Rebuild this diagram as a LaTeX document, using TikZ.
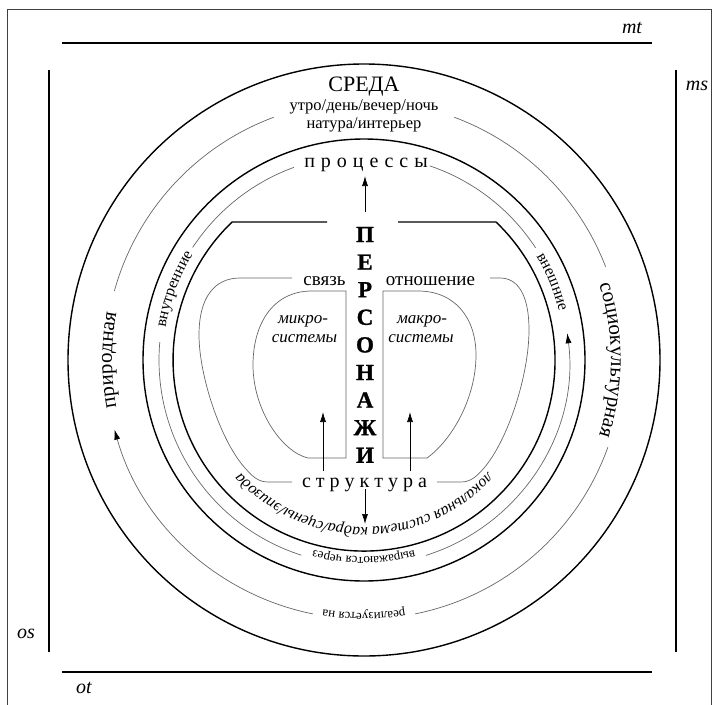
\documentclass[tikz,border=0pt]{standalone}
\usepackage{fontspec}
\setmainfont{Liberation Serif}[BoldFont={Liberation Serif Bold},ItalicFont={Liberation Serif Italic}]
\newfontfamily\persfont{Liberation Serif Bold}[FakeBold=1.2]
\usetikzlibrary{arrows.meta,decorations.text}
\begin{document}
\begin{tikzpicture}[x=1pt,y=-1pt,
  thickline/.style={line width=1.4pt, black},
  thinline/.style={line width=0.7pt, black!60},
  axisline/.style={line width=1.1pt, black},
  ar/.style={-{Latex[length=10pt,width=6pt,color=black]}},
  lbl/.style={inner sep=0pt, anchor=base},
  curvetext/.style={decorate, decoration={text along path, text align=center, text={#1}}},
]
\useasboundingbox (0,0) rectangle (714,704);
% frame
\draw[black!75, line width=1pt] (7.5,9.5) rectangle (711.5,720);
% axis lines
\coordinate (mtA) at (62,43);  \coordinate (mtB) at (652,43);
\coordinate (otA) at (62,672); \coordinate (otB) at (652,672);
\coordinate (osA) at (49,70);  \coordinate (osB) at (49,652);
\coordinate (msA) at (676,70); \coordinate (msB) at (676,652);
\draw[axisline] (mtA) -- (mtB);
\draw[axisline] (otA) -- (otB);
\draw[axisline] (osA) -- (osB);
\draw[axisline] (msA) -- (msB);
\node[lbl, font=\fontsize{20}{20}\selectfont\itshape] (mt) at (632,33) {mt};
\node[lbl, font=\fontsize{20}{20}\selectfont\itshape] (ms) at (697,90) {ms};
\node[lbl, font=\fontsize{20}{20}\selectfont\itshape] (os) at (26,638) {os};
\node[lbl, font=\fontsize{20}{20}\selectfont\itshape] (ot) at (84,693) {ot};

\coordinate (O) at (364,360);
% thick circles
\draw[thickline] (O) circle[radius=296];
\draw[thickline] (O) circle[radius=221];
% circle 2 (thin)
\draw[thinline] ([shift={(195.5:259)}]O) arc[start angle=195.5, end angle=249.6, radius=259];
\draw[thinline, ar] ([shift={(101.4:259)}]O) arc[start angle=101.4, end angle=164.4, radius=259];
\draw[thinline] ([shift={(19.7:259)}]O) arc[start angle=19.7, end angle=78.6, radius=259];
\draw[thinline] ([shift={(-69.6:259)}]O) arc[start angle=-69.6, end angle=-21.1, radius=259];
% circle 4 (thin)
\draw[thinline] ([shift={(213.3:205)}]O) arc[start angle=213.3, end angle=250, radius=205];
\draw[thinline] ([shift={(107.8:205)}]O) arc[start angle=107.8, end angle=185, radius=205];
\draw[thinline, ar] ([shift={(72.4:205)}]O) arc[start angle=72.4, end angle=-7.5, radius=205];
\draw[thinline] ([shift={(-71.3:205)}]O) arc[start angle=-71.3, end angle=-33.2, radius=205];
% circle 5 (thick, cut at top)
\draw[thickline] (398,222) -- (496,222) arc[start angle=-46.3, end angle=226.3, radius=191] -- (327,222);

% curved texts
\path[curvetext={|\fontsize{21}{21}\selectfont|природная}] ([shift={(140:252)}]O) arc[start angle=140, end angle=220, radius=252];
\path[curvetext={|\fontsize{21}{21}\selectfont|социокультурная}] ([shift={(-45:247)}]O) arc[start angle=-45, end angle=45, radius=247];
\path[curvetext={|\fontsize{13}{13}\selectfont|реализуется на}] ([shift={(50:253)}]O) arc[start angle=50, end angle=130, radius=253];
\path[curvetext={|\fontsize{16}{16}\selectfont|внутренние}] ([shift={(165:201)}]O) arc[start angle=165, end angle=236, radius=201];
\path[curvetext={|\fontsize{16}{16}\selectfont|внешние}] ([shift={(-55:201)}]O) arc[start angle=-55, end angle=10, radius=201];
\path[curvetext={|\fontsize{13}{13}\selectfont|выражаются через}] ([shift={(45:197)}]O) arc[start angle=45, end angle=135, radius=197];
\path[curvetext={|\fontsize{16}{16}\selectfont\itshape|локальная система кадра/сцены/эпизода}] ([shift={(20:167)}]O) arc[start angle=20, end angle=160, radius=167];

% straight texts
\node[lbl, font=\fontsize{22}{22}\selectfont] (sreda) at (364,91) {СРЕДА};
\node[lbl, font=\fontsize{16.5}{16.5}\selectfont] (time) at (364,110) {утро/день/вечер/ночь};
\node[lbl, font=\fontsize{16.5}{16.5}\selectfont] (place) at (364,128) {натура/интерьер};
\node[lbl, font=\fontsize{20}{20}\selectfont] (proc) at (366,167) {п\kern6pt р\kern6pt о\kern6pt ц\kern6pt е\kern6pt с\kern6pt с\kern6pt ы};
\node[lbl, font=\fontsize{20}{20}\selectfont] (struct) at (364.5,487) {с\kern5pt т\kern5pt р\kern5pt у\kern5pt к\kern5pt т\kern5pt у\kern5pt р\kern5pt а};
\node[lbl, font=\fontsize{19}{19}\selectfont] (svyaz) at (324.5,285) {связь};
\node[lbl, font=\fontsize{19}{19}\selectfont] (otnosh) at (430.5,285) {отношение};
\node[lbl, font=\fontsize{17}{17}\selectfont\itshape] (mic1) at (303,323) {микро-};
\node[lbl, font=\fontsize{17}{17}\selectfont\itshape] (mic2) at (304.5,342) {системы};
\node[lbl, font=\fontsize{17}{17}\selectfont\itshape] (mac1) at (422,323) {макро-};
\node[lbl, font=\fontsize{17}{17}\selectfont\itshape] (mac2) at (421,342) {системы};
\foreach \l [count=\i from 0] in {П,Е,Р,С,О,Н,А,Ж,И}
  \node[lbl, font=\persfont\fontsize{23}{23}\selectfont] (pers\i) at (365,{242+27.6*\i}) {\l};

% inner thin shapes
\draw[thinline] (292,278) -- (240,278) .. controls (214,278) and (199,298) .. (199,335)
   .. controls (199,375) and (220,440) .. (245,468) .. controls (252,476) and (258,482) .. (268,482) -- (292,482);
\draw[thinline] (490,278) -- (500,278) .. controls (518,278) and (529,295) .. (529,330)
   .. controls (529,375) and (508,440) .. (484,468) .. controls (477,476) and (471,482) .. (461,482) -- (437,482);
\draw[thinline] (346,291) -- (346,458) -- (308,458) .. controls (282,452) and (253,410) .. (253,365)
   .. controls (253,325) and (272,291) .. (312,291) -- cycle;
\draw[thinline] (383,291) -- (383,458) -- (427,458) .. controls (452,440) and (476,398) .. (476,355)
   .. controls (476,318) and (455,291) .. (418,291) -- cycle;

% arrows
\coordinate (upA) at (365,212); \coordinate (upB) at (365,176);
\coordinate (dnA) at (365,489); \coordinate (dnB) at (365,524);
\coordinate (lA) at (323,471);  \coordinate (lB) at (323,412);
\coordinate (rA) at (410,471);  \coordinate (rB) at (410,412);
\draw[ar, line width=0.7pt] (upA) -- (upB);
\draw[ar, line width=0.7pt] (dnA) -- (dnB);
\draw[ar, line width=0.7pt] (lA) -- (lB);
\draw[ar, line width=0.7pt] (rA) -- (rB);
\end{tikzpicture}
\end{document}
